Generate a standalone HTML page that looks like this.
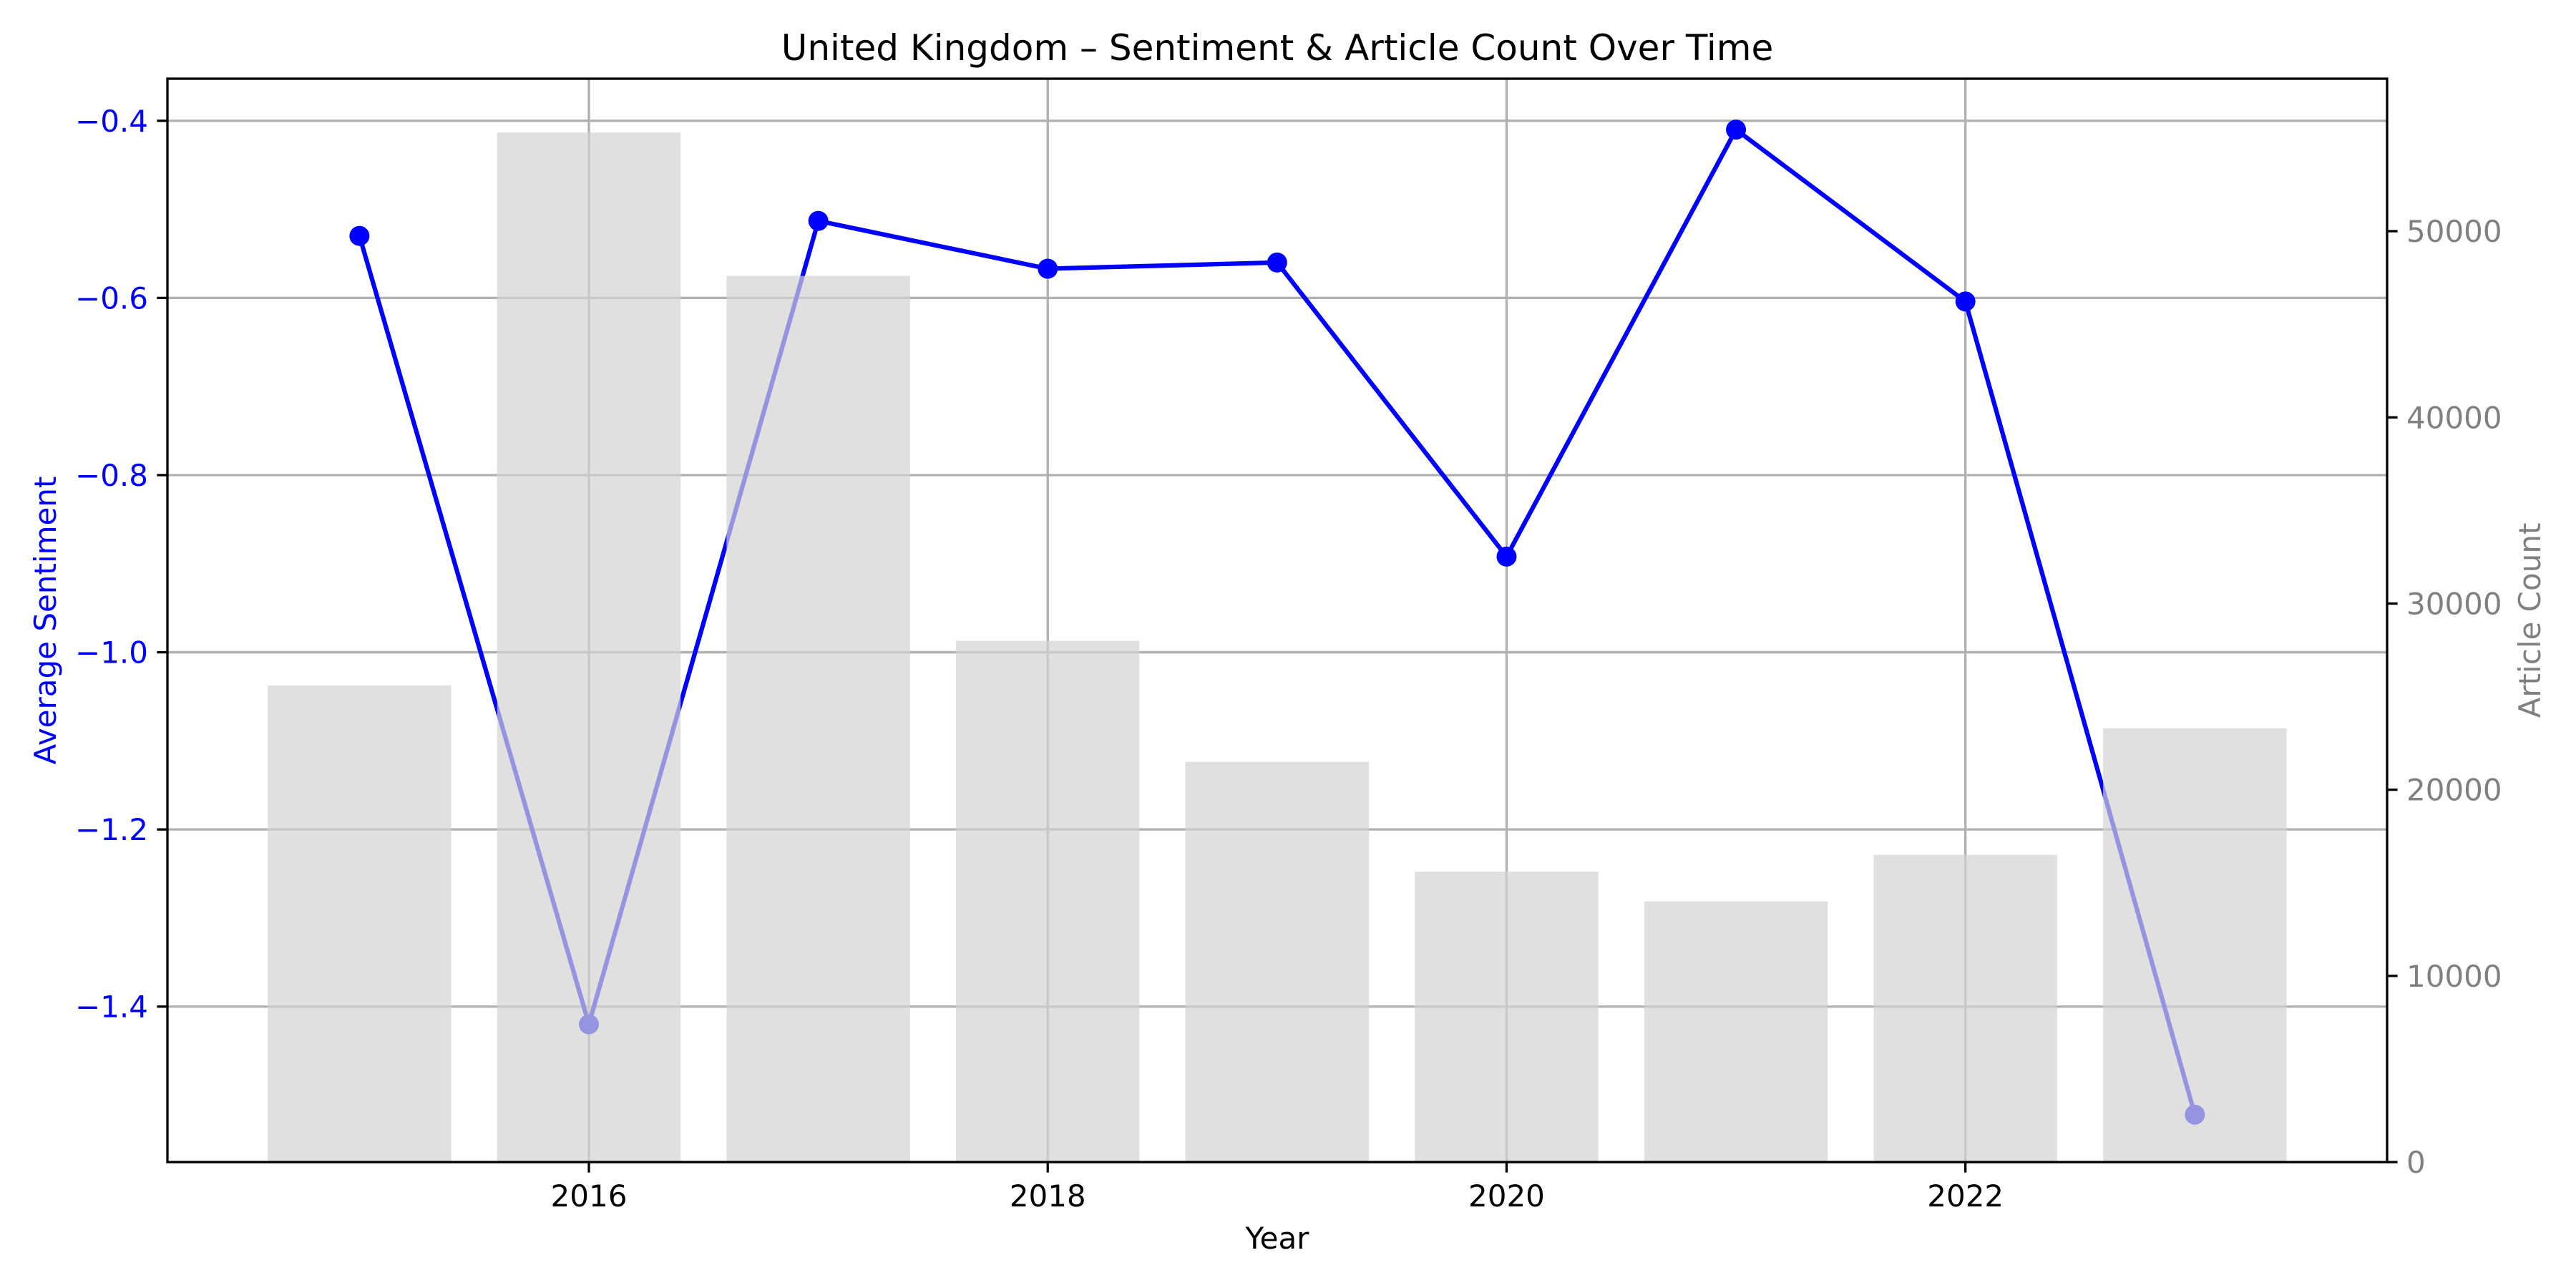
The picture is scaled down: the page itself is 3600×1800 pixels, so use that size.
<!DOCTYPE html>
<html><head><meta charset="utf-8"><style>
html,body{margin:0;padding:0;background:#fff;}
svg{display:block;font-family:"DejaVu Sans","Liberation Sans",sans-serif;}
</style></head><body>
<svg id="chart" width="3600" height="1800" viewBox="0 0 3600 1800" xmlns="http://www.w3.org/2000/svg">
<rect width="3600" height="1800" fill="#fff"/>
<g id="grid"></g>
<g id="line"></g>
<g id="bars"></g>
<g id="axes"></g>
<text x="1785" y="84" font-size="50" text-anchor="middle">United Kingdom – Sentiment &amp; Article Count Over Time</text>
<text x="1785" y="1745" font-size="42" text-anchor="middle">Year</text>
<text x="0" y="0" font-size="42" fill="#0000ff" text-anchor="middle" transform="translate(78,867) rotate(-90)">Average Sentiment</text>
<text x="0" y="0" font-size="42" fill="#808080" text-anchor="middle" transform="translate(3550,867) rotate(-90)">Article Count</text>
</svg>
<script>
const years = [2015,2016,2017,2018,2019,2020,2021,2022,2023];
const sentiment = [-0.530,-1.420,-0.513,-0.567,-0.560,-0.892,-0.410,-0.604,-1.522];
const articleCounts = [25600,55300,47600,28000,21500,15600,14000,16500,23300];
const xTicks = [2016,2018,2020,2022];
const leftTicks = [-0.4,-0.6,-0.8,-1.0,-1.2,-1.4];
const leftTickLabels = ["\u22120.4","\u22120.6","\u22120.8","\u22121.0","\u22121.2","\u22121.4"];
const rightTicks = [0,10000,20000,30000,40000,50000];

const L=234,R=3336,T=110,B=1624;
const xMin=2014.163,xMax=2023.838;
const y1Min=-1.5755,y1Max=-0.3525;
const y2Min=0,y2Max=58190;
const sx=v=>L+(v-xMin)/(xMax-xMin)*(R-L);
const sy1=v=>B-(v-y1Min)/(y1Max-y1Min)*(B-T);
const sy2=v=>B-(v-y2Min)/(y2Max-y2Min)*(B-T);
const NS="http://www.w3.org/2000/svg";
function mk(tag,attrs,parent){const e=document.createElementNS(NS,tag);for(const k in attrs)e.setAttribute(k,attrs[k]);parent.appendChild(e);return e;}
const grid=document.getElementById('grid'),line=document.getElementById('line'),bars=document.getElementById('bars'),axes=document.getElementById('axes');

xTicks.forEach(t=>{const g=mk('line',{x1:sx(t),x2:sx(t),y1:T,y2:B,stroke:'#b0b0b0','stroke-width':3.3},grid);

});
leftTicks.forEach(t=>{const g=mk('line',{x1:L,x2:R,y1:sy1(t),y2:sy1(t),stroke:'#b0b0b0','stroke-width':3.3},grid);

});

const pts=years.map((y,i)=>sx(y)+','+sy1(sentiment[i])).join(' ');
const pl=mk('polyline',{points:pts,fill:'none',stroke:'#0000ff','stroke-width':6.25,'stroke-linejoin':'round'},line);


years.forEach((y,i)=>{const c=mk('circle',{cx:sx(y),cy:sy1(sentiment[i]),r:14,fill:'#0000ff'},line);

});

years.forEach((y,i)=>{const w=sx(y+0.4)-sx(y-0.4);const r=mk('rect',{x:sx(y-0.4),y:sy2(articleCounts[i]),width:w,height:B-sy2(articleCounts[i]),fill:'#d3d3d3','fill-opacity':0.7},bars);

});

const frame=mk('rect',{x:L,y:T,width:R-L,height:B-T,fill:'none',stroke:'#000','stroke-width':3.3},axes);


xTicks.forEach(t=>{mk('line',{x1:sx(t),x2:sx(t),y1:B,y2:B+14.6,stroke:'#000','stroke-width':3.3},axes);
const tx=mk('text',{x:sx(t),y:B+62,'font-size':42,'text-anchor':'middle',fill:'#000'},axes);tx.textContent=t;

});
leftTicks.forEach((t,i)=>{mk('line',{x1:L-14.6,x2:L,y1:sy1(t),y2:sy1(t),stroke:'#000','stroke-width':3.3},axes);
const tx=mk('text',{x:L-27,y:sy1(t)+15,'font-size':42,'text-anchor':'end',fill:'#0000ff'},axes);tx.textContent=leftTickLabels[i];

});
rightTicks.forEach(t=>{mk('line',{x1:R,x2:R+14.6,y1:sy2(t),y2:sy2(t),stroke:'#000','stroke-width':3.3},axes);
const tx=mk('text',{x:R+27,y:sy2(t)+15,'font-size':42,'text-anchor':'start',fill:'#808080'},axes);tx.textContent=t;

});
</script>
</body></html>
